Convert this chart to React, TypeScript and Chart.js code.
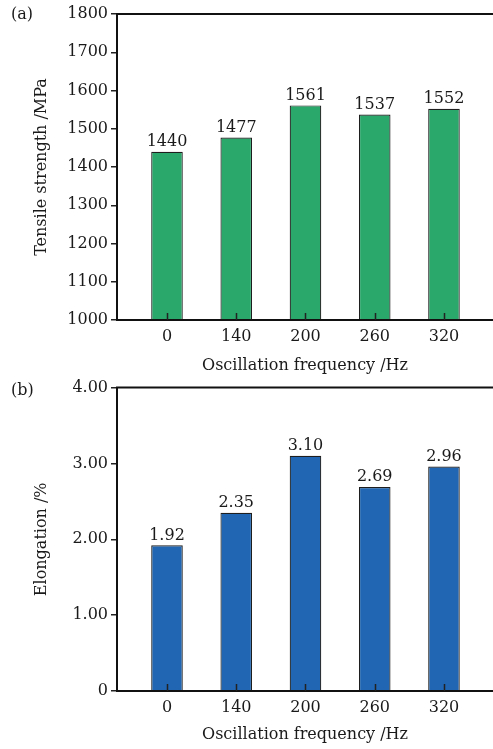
import React, { useEffect, useRef } from "react";
import { Chart, registerables } from "chart.js";
Chart.register(...registerables);

const categories = ["0", "140", "200", "260", "320"];
const strengthValues = [1440, 1477, 1561, 1537, 1552];
const elongationValues = [1.92, 2.35, 3.1, 2.69, 2.96];
const xTitle = "Oscillation frequency /Hz";
const strengthTitle = "Tensile strength /MPa";
const elongationTitle = "Elongation /%";

const FONT = "'DejaVu Serif', 'Liberation Serif', serif";

type PanelProps = {
  top: number;
  height: number;
  letter: string;
  letterY: number;
  values: number[];
  color: string;
  yMin: number;
  yMax: number;
  yStep: number;
  yTitle: string;
  padTop: number;
  padBottom: number;
  xScaleHeight: number;
  fmt: (v: number) => string;
  tickFmt: (v: number) => string;
};

function Panel(p: PanelProps) {
  const ref = useRef<HTMLCanvasElement>(null);
  useEffect(() => {
    const canvas = ref.current!;
    const decor = {
      id: "decor",
      afterDatasetsDraw(chart: any) {
        const { ctx, chartArea } = chart;
        const xs = chart.scales.x;
        const meta = chart.getDatasetMeta(0);
        ctx.save();
        ctx.strokeStyle = "#111";
        ctx.lineWidth = 2;
        ctx.beginPath();
        ctx.moveTo(chartArea.left - 1, chartArea.top);
        ctx.lineTo(chartArea.right + 2, chartArea.top);
        ctx.moveTo(chartArea.left - 1, chartArea.bottom);
        ctx.lineTo(chartArea.right + 2, chartArea.bottom);
        ctx.stroke();
        ctx.lineWidth = 1.5;
        ctx.strokeStyle = "#222";
        ctx.beginPath();
        categories.forEach((_, i) => {
          const x = Math.round(xs.getPixelForValue(i)) + 0.5;
          ctx.moveTo(x, chartArea.bottom);
          ctx.lineTo(x, chartArea.bottom - 7);
        });
        ctx.stroke();
        ctx.fillStyle = "#1a1a1a";
        ctx.font = `16px ${FONT}`;
        ctx.textAlign = "center";
        ctx.textBaseline = "bottom";
        meta.data.forEach((bar: any, i: number) => {
          ctx.fillText(p.fmt(p.values[i]), bar.x, bar.y - 2);
        });
        ctx.textAlign = "left";
        ctx.textBaseline = "middle";
        ctx.fillText(p.letter, 11, p.letterY);
        ctx.restore();
      },
    };
    const chart = new Chart(canvas, {
      type: "bar",
      data: {
        datasets: [
          {
            data: p.values.map((v, i) => ({ x: i, y: v })),
            backgroundColor: p.color,
            borderColor: "#1e1e1e",
            borderWidth: 1.2,
            categoryPercentage: 1,
            barPercentage: 0.456,
          },
        ],
      },
      options: {
        animation: false,
        responsive: false,
        devicePixelRatio: 1,
        layout: { padding: { top: p.padTop, left: 0, right: 0, bottom: p.padBottom } },
        plugins: { legend: { display: false }, tooltip: { enabled: false } },
        scales: {
          x: {
            type: "linear",
            offset: false,
            min: -0.722,
            max: 4.708,
            grid: { display: false, drawTicks: false, offset: false },
            border: { display: false },
            afterBuildTicks: (s: any) => {
              s.ticks = categories.map((_, i) => ({ value: i }));
            },
            afterFit: (s: any) => {
              s.height = p.xScaleHeight;
            },
            ticks: {
              autoSkip: false,
              maxRotation: 0,
              padding: 7,
              color: "#1a1a1a",
              font: { family: FONT, size: 16 },
              callback: (v: any) => categories[v] ?? "",
            },
            title: {
              display: true,
              text: xTitle,
              color: "#1a1a1a",
              font: { family: FONT, size: 16 },
              padding: { top: 0, bottom: 0 },
            },
          },
          y: {
            min: p.yMin,
            max: p.yMax,
            grid: {
              display: true,
              drawOnChartArea: false,
              drawTicks: true,
              tickLength: 6,
              color: "#222",
              lineWidth: 1.5,
            },
            border: { display: true, color: "#111", width: 2 },
            afterFit: (s: any) => {
              s.width = 117;
            },
            ticks: {
              stepSize: p.yStep,
              padding: 3,
              color: "#1a1a1a",
              font: { family: FONT, size: 16 },
              callback: (v: any) => p.tickFmt(Number(v)),
            },
            title: {
              display: true,
              text: p.yTitle,
              color: "#1a1a1a",
              font: { family: FONT, size: 16 },
              padding: { top: 32, bottom: 0 },
            },
          },
        },
      },
      plugins: [decor],
    } as any);
    return () => chart.destroy();
  }, []);
  return (
    <canvas
      ref={ref}
      width={493}
      height={p.height}
      style={{ position: "absolute", left: 0, top: p.top, width: 493, height: p.height }}
    />
  );
}

export default function App() {
  return (
    <div style={{ position: "absolute", left: 0, top: 0, width: 493, height: 749, background: "#fff" }}>
      <Panel
        top={0}
        height={375}
        letter="(a)"
        letterY={15}
        values={strengthValues}
        color="#2aa86b"
        yMin={1000}
        yMax={1800}
        yStep={100}
        yTitle={strengthTitle}
        padTop={14}
        padBottom={0}
        xScaleHeight={55}
        fmt={(v) => String(v)}
        tickFmt={(v) => String(v)}
      />
      <Panel
        top={375}
        height={374}
        letter="(b)"
        letterY={16}
        values={elongationValues}
        color="#2166b2"
        yMin={0}
        yMax={4}
        yStep={1}
        yTitle={elongationTitle}
        padTop={12}
        padBottom={5}
        xScaleHeight={53}
        fmt={(v) => v.toFixed(2)}
        tickFmt={(v) => (v === 0 ? "0" : v.toFixed(2))}
      />
    </div>
  );
}
